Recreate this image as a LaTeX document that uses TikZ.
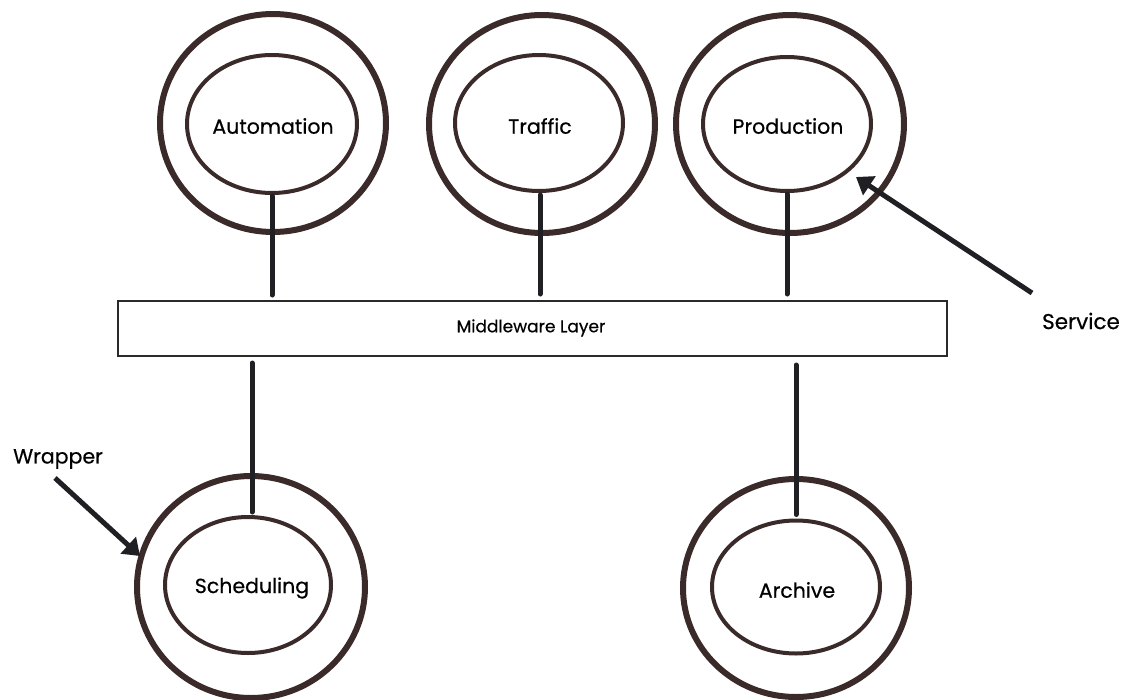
\documentclass[tikz,border=0pt]{standalone}
\usepackage{fontspec}
\setmainfont{Poppins}
\newfontfamily\handfont{Poppins}[FakeBold=0.5]
\usetikzlibrary{shapes.geometric,arrows.meta}
\definecolor{ring}{HTML}{3B2A2A}
\definecolor{ink}{HTML}{1F1F24}
\definecolor{frame}{HTML}{2A2A2A}
\begin{document}
\begin{tikzpicture}[x=1pt,y=-1pt,
  outerring/.style={ellipse,draw=ring,line width=6pt,inner sep=0pt},
  innerring/.style={ellipse,draw=ring,line width=4pt,inner sep=0pt},
  caption/.style={font=\handfont\fontsize{20.5}{24}\selectfont,text=black,inner sep=0pt},
  link/.style={draw=ink,line width=5pt,line cap=round},
  pointer/.style={draw=ink,line width=5pt,-{Triangle[length=16pt,width=22pt]}},
  layer/.style={draw=frame,line width=2pt,fill=white,inner sep=0pt}]
\useasboundingbox (0,0) rectangle (1130,699);
\clip (0,0) rectangle (1130,699);

% service rings, top row
\node[outerring,minimum width=226pt,minimum height=218pt] (autoOut) at (273,123) {};
\node[innerring,minimum width=170pt,minimum height=138pt] (autoIn) at (272,124) {};
\node[caption] (autoTxt) at (273,126) {Automation};

\node[outerring,minimum width=226pt,minimum height=218pt] (trafOut) at (542,124) {};
\node[innerring,minimum width=168pt,minimum height=136pt] (trafIn) at (539,123) {};
\node[caption] (trafTxt) at (540,126) {Traffic};

\node[outerring,minimum width=228pt,minimum height=218pt] (prodOut) at (790,124) {};
\node[innerring,minimum width=168pt,minimum height=134pt] (prodIn) at (787,124) {};
\node[caption] (prodTxt) at (788,126) {Production};

% service rings, bottom row
\node[outerring,minimum width=228pt,minimum height=222pt] (schedOut) at (251,587) {};
\node[innerring,minimum width=166pt,minimum height=136pt] (schedIn) at (248,585) {};
\node[caption] (schedTxt) at (252,588) {Scheduling};

\node[outerring,minimum width=226pt,minimum height=218pt] (archOut) at (796,588) {};
\node[innerring,minimum width=168pt,minimum height=133pt] (archIn) at (796,587) {};
\node[caption] (archTxt) at (797,590) {Archive};

% middleware bar
\node[layer,minimum width=829pt,minimum height=55pt] (mw) at (532.5,328.5) {};
\node[font=\handfont\fontsize{17}{20}\selectfont,inner sep=0pt] (mwTxt) at (531,328) {Middleware Layer};

% connectors to the bar
\draw[link,shorten <=1pt,shorten >=5pt] (autoIn.south) -- (autoIn.south |- mw.north);
\draw[link,shorten <=2pt,shorten >=6pt] (trafIn.south -| 540,0) -- (mw.north -| 540,0);
\draw[link,shorten <=1pt,shorten >=6pt] (prodIn.south) -- (prodIn.south |- mw.north);
\draw[link,shorten <=6pt,shorten >=3pt] (mw.south -| 252,0) -- (schedIn.north -| 252,0);
\draw[link,shorten <=8pt,shorten >=4pt] (mw.south -| archIn.north) -- (archIn.north);

% annotations
\node[caption,font=\handfont\fontsize{21.5}{24}\selectfont] (svcTxt) at (1081,321) {Service};
\coordinate (svcTail) at (1032,293);
\coordinate (svcTip) at (856,177);
\draw[pointer] (svcTail) -- (svcTip);

\node[caption] (wrapTxt) at (58,459) {Wrapper};
\coordinate (wrapTail) at (55,478);
\coordinate (wrapTip) at (140,556);
\draw[pointer] (wrapTail) -- (wrapTip);
\end{tikzpicture}
\end{document}
